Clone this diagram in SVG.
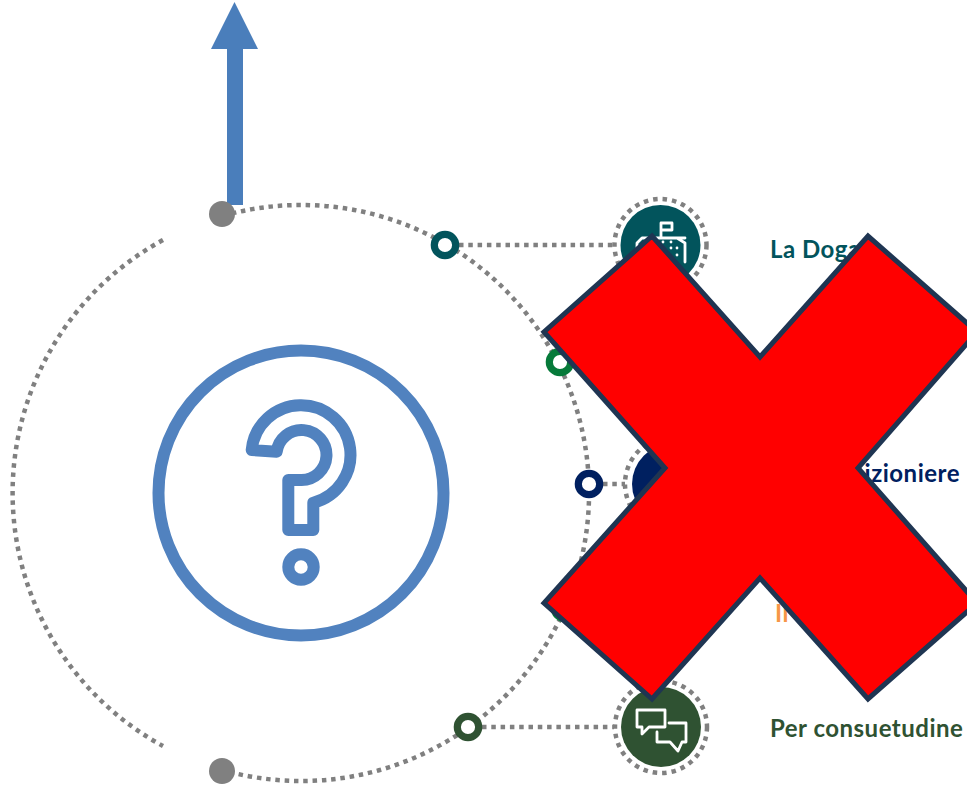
<svg xmlns="http://www.w3.org/2000/svg" width="967" height="785" viewBox="0 0 967 785">
<style>
.dot{fill:none;stroke:#808080;stroke-width:4.500;stroke-dasharray:4.500 4.800}
.ring{fill:#fff;stroke-width:7.2}
.halo{fill:none;stroke:#808080;stroke-width:4.5;stroke-dasharray:4.5 5}
.ico{fill:none;stroke:#fff;stroke-width:2.8;stroke-linejoin:round;stroke-linecap:round}
.lbl{font-family:"Lato","Liberation Sans",sans-serif;font-weight:700;font-size:24px;letter-spacing:0.5px}
.q{fill:none;stroke:#5182bf;stroke-width:12;stroke-linejoin:round}
</style>
<rect width="967" height="785" fill="#fff"/>
<g id="connectors">
<path class="dot" d="M232,213.400 A288,288 0 1 1 232,772.600"/>
<path class="dot" d="M163,240 A288,288 0 0 0 163,746"/>
<path class="dot" d="M459,245 H613"/>
<path class="dot" d="M603,484 H625"/>
<path class="dot" d="M482,727 H614"/>
</g>
<g id="arrow"><path d="M227,205 V49 H211 L234.500,2 L258,49 H243 V205 Z" fill="#4a7ebb"/></g>
<g id="start-dot"><circle cx="222" cy="214" r="13" fill="#808080"/></g>
<g id="end-dot"><circle cx="222" cy="771" r="13" fill="#808080"/></g>
<g id="question">
<circle class="q" cx="301" cy="493" r="142.500"/>
<path class="q" d="M251.700,450 A49.500,49.500 0 1 1 313.300,502.700 V530 H288.300 V480 H301 A25,25 0 1 0 276.700,451.700 Z"/>
<circle class="q" cx="301" cy="567" r="12.700"/>
</g>
<g id="node-dogana">
<circle class="ring" stroke="#02545c" cx="445" cy="245" r="10.700"/>
<circle class="halo" cx="660.500" cy="245" r="46"/>
<circle cx="660.500" cy="245" r="40" fill="#02545c"/>
<path class="ico" d="M661,238 V223 H672 V230 H661 M637,262 V243 L642,238 H685 M677,238 L685,243 V262"/>
<g fill="#fff"><circle cx="663" cy="242" r="1.400"/><circle cx="671" cy="242" r="1.400"/><circle cx="671" cy="248" r="1.400"/><circle cx="677" cy="248" r="1.400"/><circle cx="677" cy="255" r="1.400"/></g>
<text class="lbl" x="770" y="258" fill="#02545c">La Doga</text>
</g>
<g id="node-green"><circle class="ring" stroke="#067a3a" cx="560" cy="362" r="10.700"/></g>
<g id="node-approvvigionamento">
<circle class="ring" stroke="#002060" cx="589" cy="484" r="10.700"/>
<circle class="halo" cx="672" cy="484" r="47"/>
<circle cx="672" cy="484" r="40" fill="#002060"/>
<text class="lbl" x="960" y="482" text-anchor="end" fill="#002060">izioniere</text>
</g>
<g id="node-orange">
<circle class="ring" stroke="#067a3a" cx="565" cy="608" r="10.700"/>
<text class="lbl" x="775" y="622" fill="#f79646">Il</text>
</g>
<g id="node-consuetudine">
<circle class="ring" stroke="#2f5232" cx="468" cy="727" r="10.700"/>
<circle class="halo" cx="661" cy="727" r="46"/>
<circle cx="661" cy="727" r="40" fill="#2f5232"/>
<path class="ico" d="M637,710 H665 V727 H649 L642,734 V727 H637 Z M669,723 H686 V742 H682 L678,751 L670,742 H657 V732"/>
<text class="lbl" x="770" y="737" fill="#2f5232">Per consuetudine</text>
</g>
<g id="cross"><path d="M652,236 L760,357 L868,236 L977,332 L858,468 L977,603 L868,699 L760,578 L652,699 L544,603 L665,468 L544,332 Z" fill="#f00" stroke="#1f3552" stroke-width="5" stroke-linejoin="miter"/></g>
</svg>
